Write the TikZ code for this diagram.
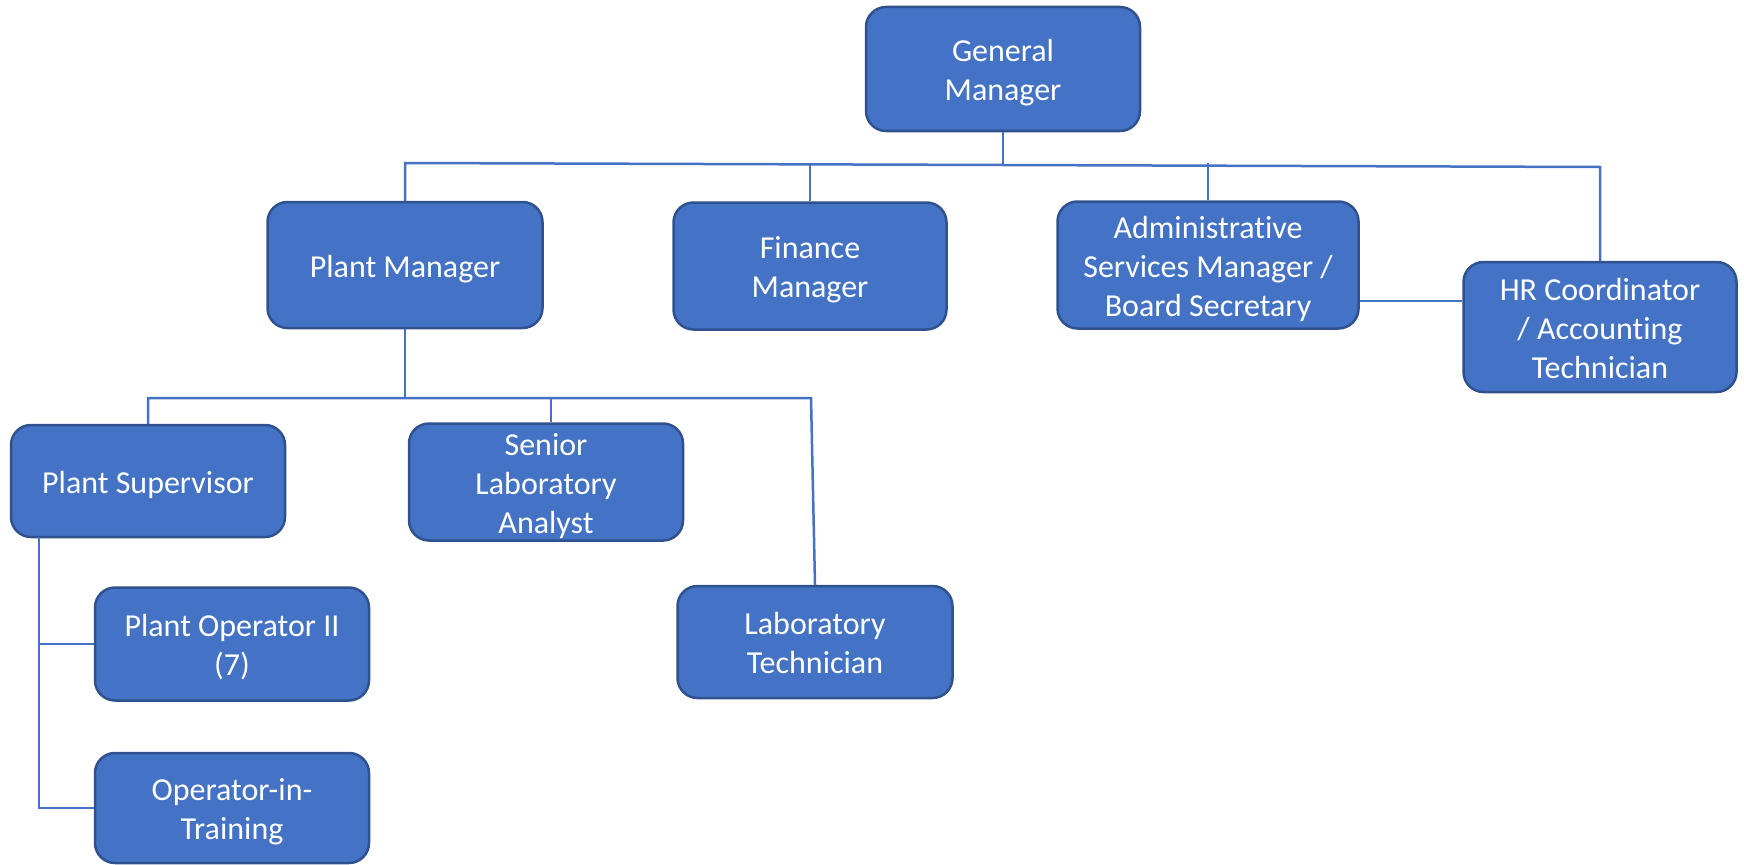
\documentclass[tikz,border=0pt]{standalone}
\usepackage{fontspec}
\setmainfont{Carlito}[Ligatures=NoCommon]
\usetikzlibrary{calc}
\definecolor{boxfill}{HTML}{4472C4}
\definecolor{boxline}{HTML}{2F528F}
\definecolor{conn}{HTML}{4472C4}
\newcommand{\boxtext}[1]{\raisebox{-4.5pt}[\height][\depth]{\begin{tabular}{@{}c@{}}#1\end{tabular}}}
\tikzset{
  orgbox/.style={rectangle, rounded corners=20pt, fill=boxfill, draw=boxline, line width=2.5pt,
    text=white, align=center, inner sep=0pt,
    font=\fontsize{32}{39}\selectfont},
  link/.style={draw=conn, line width=2.5pt},
  thinlink/.style={draw=conn, line width=1.5pt}
}
\begin{document}
\begin{tikzpicture}[x=1pt,y=-1pt]
\useasboundingbox (0,0) rectangle (1744,864);
\node[orgbox, minimum width=274pt, minimum height=124pt] (gm) at (1003,69) {\boxtext{General\\Manager}};
\node[orgbox, minimum width=275pt, minimum height=126pt] (pm) at (405,265) {\boxtext{Plant Manager}};
\node[orgbox, minimum width=273pt, minimum height=127pt] (fm) at (810,266) {\boxtext{Finance\\Manager}};
\node[orgbox, minimum width=301pt, minimum height=127pt] (asm) at (1208,265) {\boxtext{Administrative\\Services Manager /\\Board Secretary}};
\node[orgbox, minimum width=273pt, minimum height=130pt] (hr) at (1600,327) {\boxtext{HR Coordinator\\/ Accounting\\Technician}};
\node[orgbox, minimum width=274pt, minimum height=112pt] (ps) at (148,481) {\boxtext{Plant Supervisor}};
\node[orgbox, minimum width=274pt, minimum height=112pt] (sla) at (546,482) {\boxtext{Senior\\Laboratory\\Analyst}};
\node[orgbox, minimum width=275pt, minimum height=112pt] (lt) at (815,642) {\boxtext{Laboratory\\Technician}};
\node[orgbox, minimum width=274pt, minimum height=113pt] (po) at (232,644) {\boxtext{Plant Operator II\\(7)}};
\node[orgbox, minimum width=274pt, minimum height=110pt] (oit) at (232,808) {\boxtext{Operator-in-\\Training}};

% top-level bus
\coordinate (b1) at (405,163);
\coordinate (b2) at (1600,167);
\coordinate (bgm) at (1003,165);
\draw[link] (gm.south) -- (bgm);
\draw[link] (pm.north) -- (b1) -- (b2) -- (hr.north);
\draw[thinlink] (fm.north) -- ++(0,-38);
\draw[link] (asm.north) -- ++(0,-37);
\coordinate (ah) at ($(asm.east)+(0,36)$);
\draw[thinlink] (ah) -- (hr.west |- ah);

% plant manager bus
\coordinate (c0) at (405,398);
\coordinate (c1) at (148,398);
\coordinate (c2) at (811,398);
\draw[link] (pm.south) -- (c0);
\draw[link] (ps.north) -- (c1) -- (c2) -- (lt.north);
\draw[link] (sla.north -| 551,0) -- (551,398);

% supervisor spine
\coordinate (s0) at (39,537);
\coordinate (s1) at (39,644);
\coordinate (s2) at (39,808);
\draw[link] (s0) -- (s2) -- (oit.west);
\draw[link] (s1) -- (po.west);
\end{tikzpicture}
\end{document}
